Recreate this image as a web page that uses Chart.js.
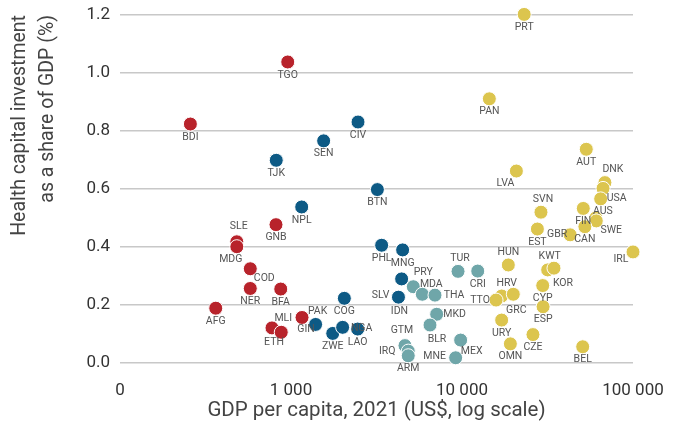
<!DOCTYPE html>
<html>
<head>
<meta charset="utf-8">
<script src="https://cdn.jsdelivr.net/npm/chart.js@4.4.1/dist/chart.umd.min.js"></script>
<style>
  html, body { margin: 0; padding: 0; background: #fff; }
</style>
</head>
<body>
<canvas id="chart" width="677" height="428"></canvas>
<script>
// GDP per capita (US$) and health capital investment (% of GDP), by group
const redCodes = ['BDI', 'TGO', 'SLE', 'MDG', 'GNB', 'COD', 'NER', 'BFA', 'AFG', 'ETH', 'MLI', 'GIN'];
const redGdp   = [258, 957, 482, 482, 817, 578, 578, 871, 363, 774, 877, 1160];
const redShare = [0.824, 1.038, 0.418, 0.401, 0.477, 0.325, 0.257, 0.255, 0.189, 0.121, 0.106, 0.157];

const blueCodes = ['TJK', 'SEN', 'CIV', 'NPL', 'BTN', 'PHL', 'MNG', 'SLV', 'IDN', 'COG', 'PAK', 'ZWE', 'NGA', 'LAO'];
const blueGdp   = [820, 1552, 2466, 1155, 3200, 3389, 4496, 4436, 4250, 2051, 1393, 1754, 2004, 2455];
const blueShare = [0.699, 0.766, 0.831, 0.538, 0.598, 0.406, 0.390, 0.290, 0.227, 0.223, 0.133, 0.102, 0.123, 0.117];

const tealCodes = ['PRY', 'MDA', 'THA', 'TUR', 'CRI', 'MKD', 'BLR', 'GTM', 'IRQ', 'ARM', 'MNE', 'MEX'];
const tealGdp   = [5190, 5860, 6950, 9480, 12360, 7110, 6500, 4640, 4850, 4850, 9180, 9820];
const tealShare = [0.263, 0.237, 0.234, 0.316, 0.317, 0.168, 0.131, 0.060, 0.041, 0.025, 0.018, 0.079];

const yellowCodes = ['PRT', 'PAN', 'AUT', 'LVA', 'DNK', '', 'USA', 'SVN', 'FIN', 'AUS', 'SWE', 'EST', 'GBR', 'CAN',
  'IRL', 'HUN', 'KWT', 'KOR', 'HRV', 'GRC', 'TTO', 'CYP', 'URY', 'ESP', 'CZE', 'OMN', 'BEL'];
const yellowGdp   = [23100, 14450, 53300, 20800, 68500, 66800, 64700, 28960, 51200, 60600, 61000, 27600, 42900, 52300,
  100000, 18660, 31700, 34500, 17060, 19950, 15820, 29650, 17060, 29800, 26000, 19180, 50800];
const yellowShare = [1.202, 0.911, 0.737, 0.662, 0.622, 0.602, 0.566, 0.520, 0.533, 0.500, 0.490, 0.462, 0.442, 0.470,
  0.383, 0.338, 0.321, 0.327, 0.231, 0.237, 0.217, 0.267, 0.148, 0.194, 0.098, 0.066, 0.056];

const xTicks = [100, 1000, 10000, 100000];
const xTickLabels = ['0', '1 000', '10 000', '100 000'];

// label offsets from the dot centre (default: just below)
const labelAt = {
  SLE: [2, -15], MDG: [-6, 13], COD: [14, 10], ETH: [2, 14], MLI: [2, -14], GIN: [4, 12],
  PAK: [2, -13], NGA: [19, 1], SLV: [-21, 16], IDN: [1, 14],
  PRY: [10, -14], MDA: [9, -10], THA: [19, 0], TUR: [2, -13], MKD: [18, 0], BLR: [7, 14],
  GTM: [-3, -15], IRQ: [-21, 0], MNE: [-21, -1], MEX: [11, 11],
  LVA: [-11, 12], DNK: [8, -13], USA: [16, 0], SVN: [2, -13], GBR: [-13, 0],
  AUS: [7, -7], SWE: [15, 9], IRL: [-12, 7], HUN: [0, -13], KWT: [2, -14], KOR: [9, 15],
  HRV: [5, -13], GRC: [3, 16], TTO: [-16, 0]
};

function pts(gdp, share) {
  return gdp.map((g, i) => ({ x: g, y: share[i] }));
}

const groups = [
  { codes: redCodes, gdp: redGdp, share: redShare, color: '#b8232b' },
  { codes: blueCodes, gdp: blueGdp, share: blueShare, color: '#0d5a85' },
  { codes: tealCodes, gdp: tealGdp, share: tealShare, color: '#6fa6a9' },
  { codes: yellowCodes, gdp: yellowGdp, share: yellowShare, color: '#dcc54e' }
];

const pointLabels = {
  id: 'pointLabels',
  afterDatasetsDraw(chart) {
    const ctx = chart.ctx;
    ctx.save();
    ctx.font = '10.5px Roboto';
    ctx.fillStyle = '#555';
    ctx.textAlign = 'center';
    ctx.textBaseline = 'middle';
    chart.data.datasets.forEach((ds, di) => {
      chart.getDatasetMeta(di).data.forEach((el, i) => {
        const code = ds.codes[i];
        if (!code) return;
        const off = labelAt[code] || [0, 13];
        ctx.fillText(code, el.x + off[0], el.y + off[1]);
      });
    });
    ctx.restore();
  }
};

new Chart(document.getElementById('chart'), {
  type: 'scatter',
  data: {
    datasets: groups.map(g => ({
      data: pts(g.gdp, g.share),
      codes: g.codes,
      backgroundColor: g.color,
      borderColor: '#fff',
      borderWidth: 1,
      pointRadius: 7,
      pointHoverRadius: 7,
      clip: false
    }))
  },
  options: {
    responsive: false,
    animation: false,
    layout: { padding: { left: 0, right: 44, top: 15, bottom: 0 } },
    plugins: { legend: { display: false }, tooltip: { enabled: false } },
    scales: {
      x: {
        type: 'logarithmic',
        min: 100,
        max: 100000,
        afterBuildTicks: axis => { axis.ticks = xTicks.map(v => ({ value: v })); },
        afterFit: scale => { scale.height = 65; scale.paddingLeft = 0; scale.paddingRight = 0; },
        grid: { display: false },
        border: { display: false },
        ticks: {
          padding: 10,
          color: '#333',
          font: { family: 'Roboto', size: 17 },
          maxRotation: 0,
          callback: v => xTickLabels[xTicks.indexOf(v)]
        },
        title: {
          display: true,
          text: 'GDP per capita, 2021 (US$, log scale)',
          color: '#444',
          font: { family: 'Roboto', size: 20.5 },
          padding: { top: 0, bottom: 5 }
        }
      },
      y: {
        min: 0,
        max: 1.2,
        afterFit: scale => { scale.width = 120; scale.paddingTop = 0; scale.paddingBottom = 0; },
        grid: { color: '#c8c8c8', lineWidth: 1.5, drawTicks: false },
        border: { display: false },
        ticks: {
          stepSize: 0.2,
          padding: 10,
          color: '#333',
          font: { family: 'Roboto', size: 17 },
          callback: v => v.toFixed(1)
        },
        title: {
          display: true,
          text: ['Health capital investment', 'as a share of GDP (%)'],
          align: 'end',
          color: '#444',
          font: { family: 'Roboto', size: 19.5, lineHeight: 1.43 },
          padding: { top: 6, bottom: 0 }
        }
      }
    }
  },
  plugins: [pointLabels]
});
</script>
</body>
</html>
